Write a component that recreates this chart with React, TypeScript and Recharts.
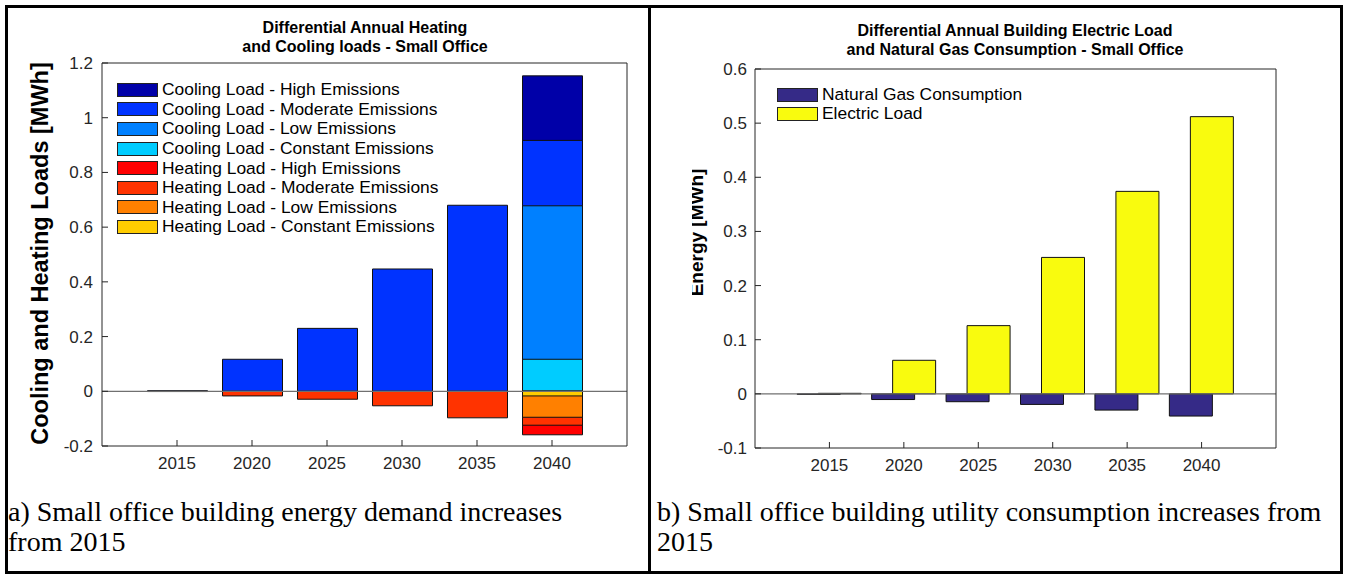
import { Bar, BarChart, Legend, ReferenceLine, XAxis, YAxis } from "recharts"

// x categories shared by both panels
const years = ["2015", "2020", "2025", "2030", "2035", "2040"]

// panel a) - bars are overlaid, so each series holds its full value
const coolingHigh = [null, null, null, null, null, 1.153]
const coolingModerate = [0.002, 0.117, 0.23, 0.447, 0.68, 0.917]
const coolingLow = [null, null, null, null, null, 0.678]
const coolingConstant = [null, null, null, null, null, 0.117]
const heatingHigh = [null, null, null, null, null, -0.159]
const heatingModerate = [-0.001, -0.017, -0.029, -0.053, -0.097, -0.124]
const heatingLow = [null, null, null, null, null, -0.095]
const heatingConstant = [null, null, null, null, null, -0.017]
const loadTicks = [-0.2, 0, 0.2, 0.4, 0.6, 0.8, 1, 1.2]

// panel b)
const naturalGas = [-0.001, -0.0105, -0.0145, -0.0195, -0.03, -0.041]
const electricLoad = [0.001, 0.062, 0.126, 0.252, 0.374, 0.512]
const energyTicks = [-0.1, 0, 0.1, 0.2, 0.3, 0.4, 0.5, 0.6]

const loadSeries = [
  { key: "coolingHigh", name: "Cooling Load - High Emissions", color: "#0000A8", values: coolingHigh },
  { key: "coolingModerate", name: "Cooling Load - Moderate Emissions", color: "#0033FF", values: coolingModerate },
  { key: "coolingLow", name: "Cooling Load - Low Emissions", color: "#0080FF", values: coolingLow },
  { key: "coolingConstant", name: "Cooling Load - Constant Emissions", color: "#00CCFF", values: coolingConstant },
  { key: "heatingHigh", name: "Heating Load - High Emissions", color: "#FF0000", values: heatingHigh },
  { key: "heatingModerate", name: "Heating Load - Moderate Emissions", color: "#FF3300", values: heatingModerate },
  { key: "heatingLow", name: "Heating Load - Low Emissions", color: "#FF8000", values: heatingLow },
  { key: "heatingConstant", name: "Heating Load - Constant Emissions", color: "#FFCC00", values: heatingConstant },
]

const energySeries = [
  { key: "gas", name: "Natural Gas Consumption", color: "#352A87", values: naturalGas },
  { key: "electric", name: "Electric Load", color: "#F9FB0E", values: electricLoad },
]

const loadData = years.map((year, i) => {
  const row: Record<string, string | number | null> = { year }
  loadSeries.forEach((s) => (row[s.key] = s.values[i]))
  return row
})

const energyData = years.map((year, i) => {
  const row: Record<string, string | number | null> = { year }
  energySeries.forEach((s) => (row[s.key] = s.values[i]))
  return row
})

const FONT = '"Liberation Sans", Arial, Helvetica, sans-serif'
const AXIS = "#262626"

function YTitle({ viewBox, value, dx, dy, size }: any) {
  const cx = viewBox.x + dx
  const cy = viewBox.y + viewBox.height / 2 + dy
  return (
    <text x={cx} y={cy} transform={`rotate(-90 ${cx} ${cy})`} textAnchor="middle" fontWeight="bold" fontSize={size} fill="#000">
      {value}
    </text>
  )
}

function SwatchLegend({ items, rowHeight }: { items: { name: string; color: string }[]; rowHeight: number }) {
  return (
    <div style={{ fontFamily: FONT, fontSize: 17.4, color: "#000" }}>
      {items.map((it) => (
        <div key={it.name} style={{ display: "flex", alignItems: "center", height: rowHeight, whiteSpace: "nowrap" }}>
          <span style={{ display: "inline-block", width: 39, height: 12, background: it.color, border: "1px solid #222", marginRight: 4 }} />
          <span>{it.name}</span>
        </div>
      ))}
    </div>
  )
}

const titleStyle = {
  position: "absolute" as const,
  fontFamily: FONT,
  fontWeight: "bold" as const,
  fontSize: 16,
  lineHeight: "19px",
  textAlign: "center" as const,
  whiteSpace: "nowrap" as const,
  transform: "translateX(-50%)",
}

const captionStyle = {
  position: "absolute" as const,
  fontFamily: '"Liberation Serif", "Times New Roman", serif',
  fontSize: 28,
  lineHeight: "30px",
  whiteSpace: "nowrap" as const,
  color: "#000",
}

export default function App() {
  return (
    <div style={{ position: "absolute", left: 0, top: 0, width: 1345, height: 576, background: "#fff", overflow: "hidden" }}>
      {/* table frame */}
      <div style={{ position: "absolute", left: 5, top: 5, width: 1338, height: 569, border: "3px solid #000", boxSizing: "border-box" }} />
      <div style={{ position: "absolute", left: 648, top: 5, width: 3, height: 569, background: "#000" }} />

      {/* panel a */}
      <div style={{ ...titleStyle, left: 365, top: 18 }}>
        Differential Annual Heating
        <br />
        and Cooling loads - Small Office
      </div>
      <div style={{ position: "absolute", left: 0, top: 0, fontFamily: FONT }}>
        <BarChart width={650} height={500} data={loadData} margin={{ top: 62, right: 22, bottom: 24, left: 42 }} barGap={-60}>
          <XAxis dataKey="year" padding={{ left: 37.5, right: 37.5 }} height={30} tickSize={-6} tickMargin={17}
            stroke={AXIS} tick={{ fontSize: 17, fill: AXIS }} />
          <XAxis xAxisId="top" orientation="top" dataKey="year" padding={{ left: 37.5, right: 37.5 }} height={1}
            tickSize={-6} tick={false} stroke={AXIS} />
          <YAxis domain={[-0.2, 1.2]} ticks={loadTicks} width={60} tickSize={-6} tickMargin={15} stroke={AXIS}
            tick={{ fontSize: 17, fill: AXIS }} allowDataOverflow
            label={<YTitle value="Cooling and Heating Loads [MWh]" dx={6} dy={-1} size={23.5} />} />
          <YAxis yAxisId="right" orientation="right" domain={[-0.2, 1.2]} ticks={loadTicks} width={1} tickSize={-6}
            tick={false} stroke={AXIS} allowDataOverflow />
          <Legend layout="horizontal" verticalAlign="middle" align="center"
            wrapperStyle={{ position: "absolute", left: 117, top: 80, width: "auto" }}
            content={() => <SwatchLegend items={loadSeries} rowHeight={19.6} />} />
          {loadSeries.map((s) => (
            <Bar key={s.key} dataKey={s.key} name={s.name} fill={s.color} stroke="#111" strokeWidth={1} barSize={60}
              isAnimationActive={false} />
          ))}
          <ReferenceLine y={0} stroke="#707070" strokeWidth={1.2} />
        </BarChart>
      </div>
      <div style={{ ...captionStyle, left: 8, top: 497 }}>
        a) Small office building energy demand increases
        <br />
        from 2015
      </div>

      {/* panel b */}
      <div style={{ ...titleStyle, left: 1015, top: 21 }}>
        Differential Annual Building Electric Load
        <br />
        and Natural Gas Consumption - Small Office
      </div>
      <div style={{ position: "absolute", left: 692, top: 0, fontFamily: FONT }}>
        <BarChart width={610} height={500} data={energyData} margin={{ top: 68, right: 25, bottom: 22, left: 13 }} barGap={-22}>
          <XAxis dataKey="year" padding={{ left: 37.2, right: 37.2 }} height={30} tickSize={-6} tickMargin={17}
            stroke={AXIS} tick={{ fontSize: 17, fill: AXIS }} />
          <XAxis xAxisId="top" orientation="top" dataKey="year" padding={{ left: 37.2, right: 37.2 }} height={1}
            tickSize={-6} tick={false} stroke={AXIS} />
          <YAxis domain={[-0.1, 0.6]} ticks={energyTicks} width={50} tickSize={-6} tickMargin={14} stroke={AXIS}
            tick={{ fontSize: 17, fill: AXIS }} allowDataOverflow
            label={<YTitle value="Energy [MWh]" dx={-2.5} dy={-26} size={19} />} />
          <YAxis yAxisId="right" orientation="right" domain={[-0.1, 0.6]} ticks={energyTicks} width={1} tickSize={-6}
            tick={false} stroke={AXIS} allowDataOverflow />
          <Legend layout="horizontal" verticalAlign="middle" align="center"
            wrapperStyle={{ position: "absolute", left: 85, top: 85, width: "auto" }}
            content={() => <SwatchLegend items={energySeries} rowHeight={19} />} />
          {energySeries.map((s) => (
            <Bar key={s.key} dataKey={s.key} name={s.name} fill={s.color} stroke="#111" strokeWidth={1} barSize={43}
              isAnimationActive={false} />
          ))}
          <ReferenceLine y={0} stroke="#707070" strokeWidth={1.2} />
        </BarChart>
      </div>
      <div style={{ ...captionStyle, left: 657, top: 497 }}>
        b) Small office building utility consumption increases from
        <br />
        2015
      </div>
    </div>
  )
}
